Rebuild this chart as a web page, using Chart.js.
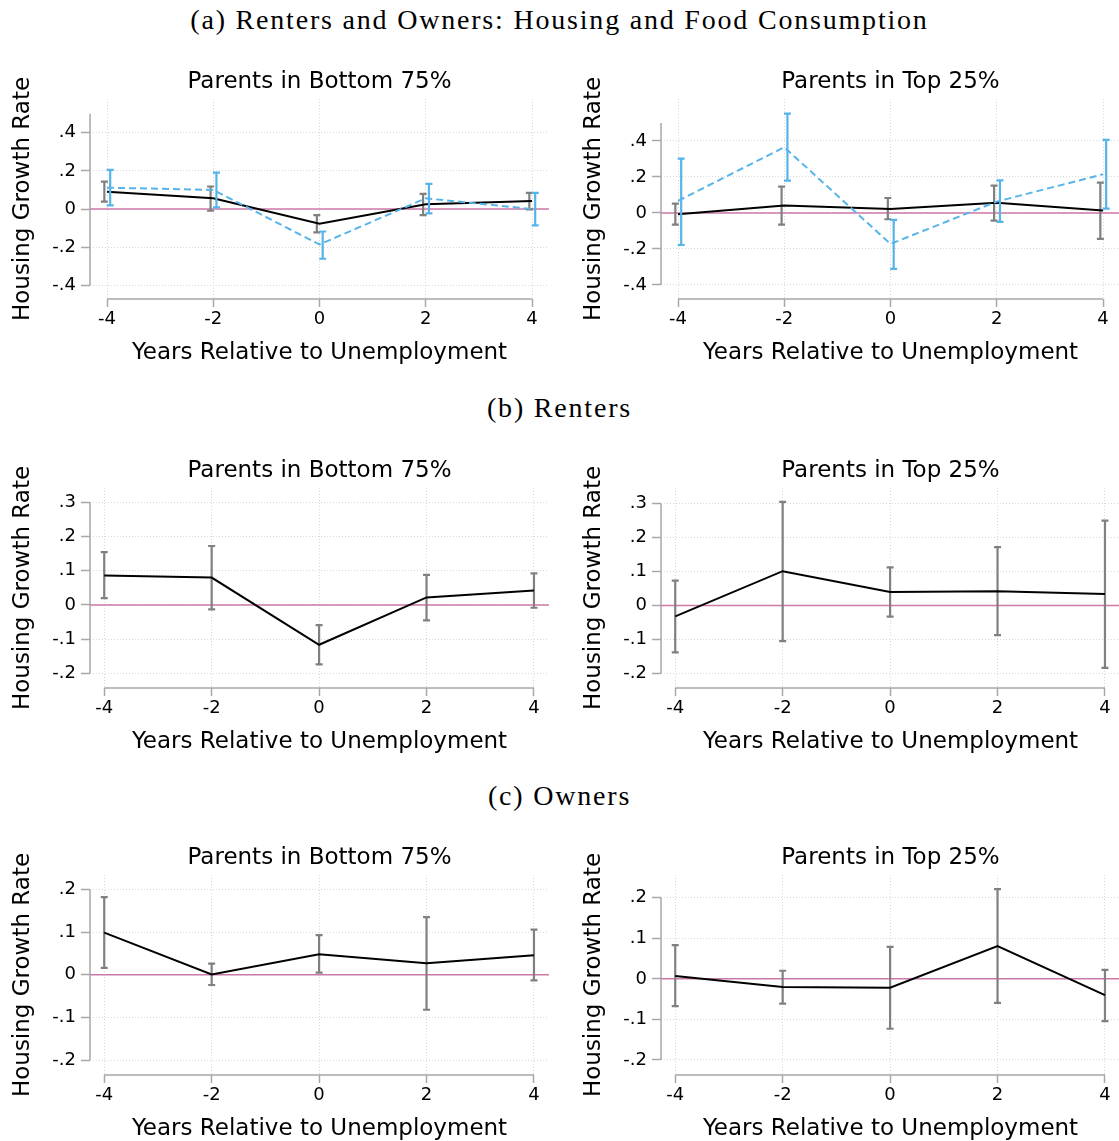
<!DOCTYPE html>
<html>
<head>
<meta charset="utf-8">
<script src="https://cdn.jsdelivr.net/npm/chart.js@4.4.1/dist/chart.umd.min.js"></script>
<style>
html, body { margin: 0; padding: 0; background: #fff; }
body { width: 1119px; height: 1141px; position: relative; overflow: hidden; }
.sect { position: absolute; left: 0; width: 1119px; text-align: center; font-family: "Liberation Serif", serif; font-size: 28px; letter-spacing: 1.8px; line-height: 30px; color: #000; }
canvas { position: absolute; }
</style>
</head>
<body>
<div class="sect" style="top:5px">(a) Renters and Owners: Housing and Food Consumption</div>
<div class="sect" style="top:393px">(b) Renters</div>
<div class="sect" style="top:781px">(c) Owners</div>
<canvas id="aBot" width="560" height="320" style="left:0;top:55px"></canvas>
<canvas id="aTop" width="560" height="320" style="left:571px;top:55px"></canvas>
<canvas id="bBot" width="560" height="320" style="left:0;top:444px"></canvas>
<canvas id="bTop" width="560" height="320" style="left:571px;top:444px"></canvas>
<canvas id="cBot" width="560" height="320" style="left:0;top:831px"></canvas>
<canvas id="cTop" width="560" height="320" style="left:571px;top:831px"></canvas>
<script>
// years relative to the unemployment spell
const years = [-4, -2, 0, 2, 4];

const yTicksA = [-0.4, -0.2, 0, 0.2, 0.4];
const yTicksB = [-0.2, -0.1, 0, 0.1, 0.2, 0.3];
const yTicksC = [-0.2, -0.1, 0, 0.1, 0.2];

// (a) renters and owners, bottom 75%
const aBotHousing = [0.091, 0.056, -0.077, 0.025, 0.042];
const aBotHousingLo = [0.039, -0.009, -0.123, -0.032, -0.002];
const aBotHousingHi = [0.144, 0.118, -0.032, 0.079, 0.085];
const aBotFood = [0.112, 0.100, -0.186, 0.056, 0.000];
const aBotFoodLo = [0.019, 0.009, -0.261, -0.023, -0.086];
const aBotFoodHi = [0.205, 0.191, -0.118, 0.132, 0.085];

// (a) renters and owners, top 25%
const aTopHousing = [-0.007, 0.041, 0.022, 0.057, 0.013];
const aTopHousingLo = [-0.065, -0.065, -0.035, -0.043, -0.144];
const aTopHousingHi = [0.052, 0.146, 0.083, 0.152, 0.169];
const aTopFood = [0.067, 0.365, -0.172, 0.063, 0.215];
const aTopFoodLo = [-0.178, 0.180, -0.311, -0.050, 0.024];
const aTopFoodHi = [0.302, 0.552, -0.039, 0.181, 0.406];

// (b) renters
const bBotHousing = [0.086, 0.080, -0.116, 0.022, 0.042];
const bBotHousingLo = [0.020, -0.013, -0.173, -0.045, -0.008];
const bBotHousingHi = [0.154, 0.172, -0.059, 0.088, 0.092];
const bTopHousing = [-0.032, 0.101, 0.040, 0.042, 0.034];
const bTopHousingLo = [-0.138, -0.105, -0.033, -0.087, -0.184];
const bTopHousingHi = [0.073, 0.305, 0.112, 0.172, 0.250];

// (c) owners
const cBotHousing = [0.099, 0.001, 0.048, 0.027, 0.046];
const cBotHousingLo = [0.016, -0.024, 0.005, -0.082, -0.013];
const cBotHousingHi = [0.182, 0.026, 0.093, 0.135, 0.106];
const cTopHousing = [0.007, -0.020, -0.022, 0.081, -0.040];
const cTopHousingLo = [-0.067, -0.061, -0.123, -0.059, -0.104];
const cTopHousingHi = [0.083, 0.020, 0.079, 0.221, 0.022];

const FONT = 'DejaVu Sans';
const GRAY = '#808080';
const BLUE = '#56b4e9';
const AXIS = '#a8a8a8';

// stata-ish extras: detached axis lines, zero line, capped CIs
const stataBits = {
    id: 'stataBits',
    beforeDatasetsDraw(chart, args, opts) {
        const { ctx, chartArea: ca, scales: { x, y } } = chart;
        ctx.save();
        ctx.strokeStyle = AXIS;
        ctx.lineWidth = 1.5;
        ctx.beginPath();
        ctx.moveTo(ca.left, y.getPixelForValue(opts.yLine[0]));
        ctx.lineTo(ca.left, y.getPixelForValue(opts.yLine[1]));
        ctx.moveTo(x.getPixelForValue(years[0]), ca.bottom);
        ctx.lineTo(x.getPixelForValue(years[years.length - 1]), ca.bottom);
        ctx.stroke();

        const y0 = y.getPixelForValue(0);
        ctx.strokeStyle = '#cc79a7';
        ctx.lineWidth = 1.5;
        ctx.beginPath();
        ctx.moveTo(ca.left, y0);
        ctx.lineTo(ca.right, y0);
        ctx.stroke();
        ctx.restore();
    },
    beforeDatasetDraw(chart, args) {
        const ds = chart.data.datasets[args.index];
        if (!ds.lo) return;
        const { ctx, scales: { x, y } } = chart;
        ctx.save();
        ctx.strokeStyle = ds.ciColor;
        ctx.lineWidth = 2.2;
        ds.data.forEach((p, i) => {
            const px = x.getPixelForValue(p.x + ds.ciShift);
            const top = y.getPixelForValue(ds.hi[i]);
            const bot = y.getPixelForValue(ds.lo[i]);
            ctx.beginPath();
            ctx.moveTo(px, top); ctx.lineTo(px, bot);
            ctx.moveTo(px - 3.5, top); ctx.lineTo(px + 3.5, top);
            ctx.moveTo(px - 3.5, bot); ctx.lineTo(px + 3.5, bot);
            ctx.stroke();
        });
        ctx.restore();
    }
};

function fmtY(v) {
    if (Math.abs(v) < 1e-9) return '0';
    return (v < 0 ? '-' : '') + Math.abs(v).toFixed(1).slice(1);
}

function panel(id, title, series, xr, yr, yTicks, yLine) {
    const datasets = series.map(s => ({
        data: years.map((yr, i) => ({ x: yr, y: s.values[i] })),
        lo: s.lo,
        hi: s.hi,
        ciColor: s.ciColor,
        ciShift: s.shift || 0,
        borderColor: s.color,
        borderWidth: 2,
        borderDash: s.dash || [],
        pointRadius: 0,
        tension: 0,
        order: s.order
    }));

    return new Chart(document.getElementById(id), {
        type: 'line',
        data: { datasets: datasets },
        options: {
            responsive: false,
            animation: false,
            layout: { padding: { left: 0, right: 11, top: 0, bottom: 0 } },
            scales: {
                x: {
                    type: 'linear',
                    min: xr[0],
                    max: xr[1],
                    afterBuildTicks: s => { s.ticks = years.map(v => ({ value: v })); },
                    afterFit: s => { s.height = 76; },
                    ticks: { font: { family: FONT, size: 18 }, color: '#000', padding: 2, callback: v => String(v) },
                    grid: { color: '#d8d8d8', lineWidth: 1, drawTicks: true, tickLength: 8, tickColor: AXIS, tickWidth: 1.5 },
                    border: { display: false, dash: [1, 2] },
                    title: { display: true, text: 'Years Relative to Unemployment', color: '#000',
                        font: { family: FONT, size: 23, lineHeight: 1.2 }, padding: { top: 0, bottom: 8.5 } }
                },
                y: {
                    min: yr[0],
                    max: yr[1],
                    afterBuildTicks: s => { s.ticks = yTicks.map(v => ({ value: v })); },
                    afterFit: s => { s.width = 90; },
                    ticks: { font: { family: FONT, size: 18 }, color: '#000', padding: 5, callback: fmtY },
                    grid: { color: '#d8d8d8', lineWidth: 1, drawTicks: true, tickLength: 9, tickColor: AXIS, tickWidth: 1.5 },
                    border: { display: false, dash: [1, 2] },
                    title: { display: true, text: 'Housing Growth Rate', color: '#000',
                        font: { family: FONT, size: 23, lineHeight: 1.2 }, padding: { top: 9, bottom: 0 } }
                }
            },
            plugins: {
                legend: { display: false },
                tooltip: { enabled: false },
                title: {
                    display: true,
                    text: title,
                    fullSize: false,
                    color: '#000',
                    font: { family: FONT, size: 23, weight: 'normal', lineHeight: 1.2 },
                    padding: { top: 13.5, bottom: 2.9 }
                },
                stataBits: { yLine: yLine }
            }
        },
        plugins: [stataBits]
    });
}

const BOT = 'Parents in Bottom 75%';
const TOP = 'Parents in Top 25%';

panel('aBot', BOT, [
    { values: aBotHousing, lo: aBotHousingLo, hi: aBotHousingHi, color: '#000', ciColor: GRAY, shift: -0.05, order: 1 },
    { values: aBotFood, lo: aBotFoodLo, hi: aBotFoodHi, color: BLUE, ciColor: BLUE, shift: 0.06, dash: [7, 4], order: 0 }
], [-4.32, 4.32], [-0.472, 0.577], yTicksA, [-0.4, 0.5]);

panel('aTop', TOP, [
    { values: aTopHousing, lo: aTopHousingLo, hi: aTopHousingHi, color: '#000', ciColor: GRAY, shift: -0.05, order: 1 },
    { values: aTopFood, lo: aTopFoodLo, hi: aTopFoodHi, color: BLUE, ciColor: BLUE, shift: 0.06, dash: [7, 4], order: 0 }
], [-4.32, 4.32], [-0.478, 0.633], yTicksA, [-0.4, 0.5]);

panel('bBot', BOT, [
    { values: bBotHousing, lo: bBotHousingLo, hi: bBotHousingHi, color: '#000', ciColor: GRAY, order: 0 }
], [-4.265, 4.28], [-0.242, 0.341], yTicksB, [-0.2, 0.3]);

panel('bTop', TOP, [
    { values: bTopHousing, lo: bTopHousingLo, hi: bTopHousingHi, color: '#000', ciColor: GRAY, order: 0 }
], [-4.265, 4.28], [-0.243, 0.346], yTicksB, [-0.2, 0.3]);

panel('cBot', BOT, [
    { values: cBotHousing, lo: cBotHousingLo, hi: cBotHousingHi, color: '#000', ciColor: GRAY, order: 0 }
], [-4.265, 4.28], [-0.235, 0.234], yTicksC, [-0.2, 0.2]);

panel('cTop', TOP, [
    { values: cTopHousing, lo: cTopHousingLo, hi: cTopHousingHi, color: '#000', ciColor: GRAY, order: 0 }
], [-4.265, 4.28], [-0.237, 0.256], yTicksC, [-0.2, 0.2]);
</script>
</body>
</html>
